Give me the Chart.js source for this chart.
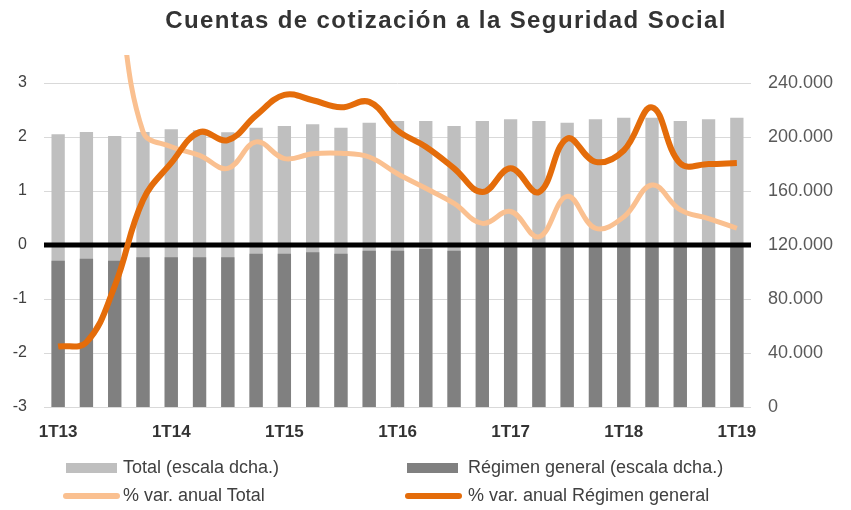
<!DOCTYPE html>
<html>
<head>
<meta charset="utf-8">
<script src="https://cdn.jsdelivr.net/npm/chart.js@4.4.1/dist/chart.umd.min.js"></script>
<style>
  body { margin: 0; background: #fff; font-family: "Liberation Sans", Arial, sans-serif; }
  #caja { position: relative; width: 851px; height: 510px; }
  #titulo { position: absolute; left: 0; top: 6px; width: 892px; text-align: center;
            font-weight: bold; font-size: 24px; letter-spacing: 1.4px; color: #333; }
  .leyenda { position: absolute; font-size: 18px; color: #404040; line-height: 20px; white-space: nowrap; }
  .marca { position: absolute; }
</style>
</head>
<body>
<div id="caja">
  <canvas id="grafico" width="851" height="510"></canvas>
  <div id="titulo">Cuentas de cotización a la Seguridad Social</div>
  <div id="leyenda"></div>
</div>
<script>
// Datos (trimestres 1T13 - 1T19)
const trimestres = [
  "1T13", "2T13", "3T13", "4T13", "1T14", "2T14", "3T14", "4T14",
  "1T15", "2T15", "3T15", "4T15", "1T16", "2T16", "3T16", "4T16",
  "1T17", "2T17", "3T17", "4T17", "1T18", "2T18", "3T18", "4T18", "1T19"
];
const etiquetasEje = ["1T13", "1T14", "1T15", "1T16", "1T17", "1T18", "1T19"];

// Número de cuentas (escala derecha)
const cuentasTotal = [
  202000, 203700, 200700, 203700, 205700, 205000, 203500, 206900,
  208100, 209400, 206900, 210600, 211800, 211800, 208100, 211800,
  213100, 211800, 210600, 213100, 214300, 214300, 211800, 213100, 214300
];
const cuentasRegimen = [
  108400, 109800, 108400, 110900, 110900, 110900, 110900, 113600,
  113600, 114600, 113600, 115800, 115800, 117000, 115800, 119500,
  120000, 119500, 120000, 120500, 121000, 121000, 120000, 120500, 121000
];

// % variación anual (escala izquierda)
const varTotal = [
  8, 7, 5, 2.1, 1.82, 1.66, 1.42, 1.91, 1.6, 1.69, 1.7, 1.63, 1.32,
  1.05, 0.77, 0.4, 0.62, 0.15, 0.9, 0.31, 0.52, 1.11, 0.65, 0.49, 0.31
];
const varRegimen = [
  -1.88, -1.8, -0.76, 0.83, 1.52, 2.09, 1.94, 2.4, 2.78, 2.68, 2.55, 2.65, 2.12,
  1.82, 1.42, 0.98, 1.42, 0.98, 1.97, 1.54, 1.75, 2.55, 1.51, 1.5, 1.52
];

const nombres = [
  "Total (escala dcha.)", "Régimen general (escala dcha.)",
  "% var. anual Total", "% var. anual Régimen general"
];
const colores = ["#bfbfbf", "#808080", "#fac090", "#e46c0a"];

function miles(v) {
  return String(v).replace(/\B(?=(\d{3})+(?!\d))/g, ".");
}

// línea del cero por encima de las barras y por debajo de las líneas
const lineaCero = {
  id: "lineaCero",
  afterDatasetDraw(chart, args) {
    if (args.index !== 1) return;
    const ctx = chart.ctx;
    const y = chart.scales.y.getPixelForValue(0);
    ctx.save();
    ctx.strokeStyle = "#000";
    ctx.lineWidth = 5;
    ctx.beginPath();
    ctx.moveTo(chart.chartArea.left, y);
    ctx.lineTo(chart.chartArea.right, y);
    ctx.stroke();
    ctx.restore();
  }
};

const ctx = document.getElementById("grafico").getContext("2d");
const grafico = new Chart(ctx, {
  type: "bar",
  data: {
    labels: trimestres,
    datasets: [
      { label: nombres[0], data: cuentasTotal, backgroundColor: colores[0], yAxisID: "y1",
        grouped: false, order: 4, categoryPercentage: 1, barPercentage: 0.47 },
      { label: nombres[1], data: cuentasRegimen, backgroundColor: colores[1], yAxisID: "y1",
        grouped: false, order: 3, categoryPercentage: 1, barPercentage: 0.47 },
      { type: "line", label: nombres[2], data: varTotal, borderColor: colores[2], borderWidth: 5,
        pointRadius: 0, tension: 0.4, yAxisID: "y", order: 2,
        clip: { left: 5, top: 28, right: 5, bottom: 5 } },
      { type: "line", label: nombres[3], data: varRegimen, borderColor: colores[3], borderWidth: 6,
        pointRadius: 0, tension: 0.4, yAxisID: "y", order: 1 }
    ]
  },
  options: {
    responsive: false,
    animation: false,
    layout: { padding: { top: 83, left: 0, right: 0, bottom: 0 } },
    plugins: { legend: { display: false }, title: { display: false }, tooltip: { enabled: false } },
    scales: {
      x: {
        grid: { display: false }, border: { display: false },
        ticks: {
          autoSkip: false, maxRotation: 0, padding: 7, color: "#333",
          font: { family: "Liberation Sans", size: 17, weight: "bold" },
          callback: function (v, i) { return etiquetasEje.includes(trimestres[i]) ? trimestres[i] : ""; }
        },
        afterFit: function (s) { s.height = 103; }
      },
      y: {
        position: "left", min: -3, max: 3,
        grid: { color: "#d9d9d9", drawTicks: false }, border: { display: false },
        ticks: { stepSize: 1, padding: 17, color: "#404040", font: { family: "Liberation Sans", size: 16 } },
        afterFit: function (s) { s.width = 44; }
      },
      y1: {
        position: "right", min: 0, max: 240000,
        grid: { display: false, drawTicks: false }, border: { display: false },
        ticks: { stepSize: 40000, padding: 17, color: "#595959", font: { family: "Liberation Sans", size: 18 },
                 callback: function (v) { return miles(v); } },
        afterFit: function (s) { s.width = 100; }
      }
    }
  },
  plugins: [lineaCero]
});

// Leyenda en HTML, dos columnas
const leyenda = document.getElementById("leyenda");
const posiciones = [
  { x: 66, y: 468, texto: 123, barra: true },
  { x: 407, y: 468, texto: 468, barra: true },
  { x: 63, y: 496, texto: 123, barra: false },
  { x: 405, y: 496, texto: 468, barra: false }
];
grafico.data.datasets.forEach(function (ds, i) {
  const p = posiciones[i];
  const m = document.createElement("div");
  m.className = "marca";
  if (p.barra) {
    m.style.cssText = "left:" + p.x + "px;top:" + (p.y - 5) + "px;width:51px;height:10px;background:" + colores[i];
  } else {
    m.style.cssText = "left:" + p.x + "px;top:" + (p.y - 3) + "px;width:57px;height:6px;border-radius:3px;background:" + colores[i];
  }
  leyenda.appendChild(m);
  const t = document.createElement("div");
  t.className = "leyenda";
  t.style.left = p.texto + "px";
  t.style.top = (p.y - 11) + "px";
  t.textContent = ds.label;
  leyenda.appendChild(t);
});
</script>
</body>
</html>
